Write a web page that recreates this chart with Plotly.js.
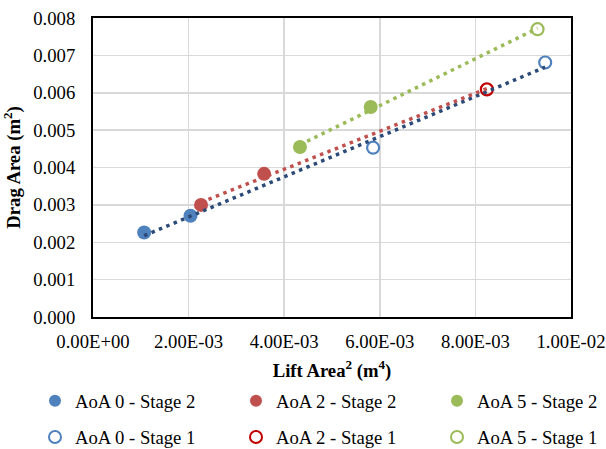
<!DOCTYPE html>
<html>
<head>
<meta charset="utf-8">
<script src="https://cdn.plot.ly/plotly-3.0.1.min.js"></script>
<style>html,body{margin:0;padding:0;background:#fff;}#chart{width:606px;height:449px;}</style>
</head>
<body>
<div id="chart"></div>
<script>
// ---- data ----
const aoa0Stage2X = [0.00107, 0.00204];
const aoa0Stage2Y = [0.00226, 0.00271];
const aoa2Stage2X = [0.00226, 0.00358];
const aoa2Stage2Y = [0.00300, 0.00383];
const aoa5Stage2X = [0.00433, 0.00581];
const aoa5Stage2Y = [0.00455, 0.00562];
const aoa0Stage1X = [0.00586, 0.00946];
const aoa0Stage1Y = [0.00453, 0.00681];
const aoa2Stage1X = [0.00824];
const aoa2Stage1Y = [0.00609];
const aoa5Stage1X = [0.00930];
const aoa5Stage1Y = [0.00770];

const xTickVals = [0, 0.002, 0.004, 0.006, 0.008, 0.010];
const xTickText = ["0.00E+00", "2.00E-03", "4.00E-03", "6.00E-03", "8.00E-03", "1.00E-02"];

const seriesNames = ["AoA 0 - Stage 2", "AoA 2 - Stage 2", "AoA 5 - Stage 2",
                     "AoA 0 - Stage 1", "AoA 2 - Stage 1", "AoA 5 - Stage 1"];

// ---- styling ----
const FONT = "'Liberation Serif', 'Times New Roman', serif";
const FS = 18.7;
const cBlue = "#4F81BD", cRed = "#C0504D", cGreen = "#9BBB59", cRedOpen = "#C00000";
const tBlue = "#2C4A78", tRed = "#C0504D", tGreen = "#9BBB59";

function linfit(xs, ys) {
  const n = xs.length;
  const mx = xs.reduce((a, b) => a + b, 0) / n;
  const my = ys.reduce((a, b) => a + b, 0) / n;
  let sxy = 0, sxx = 0;
  for (let i = 0; i < n; i++) { sxy += (xs[i] - mx) * (ys[i] - my); sxx += (xs[i] - mx) ** 2; }
  const m = sxy / sxx, b = my - m * mx;
  const x0 = Math.min(...xs), x1 = Math.max(...xs);
  return { x: [x0, x1], y: [m * x0 + b, m * x1 + b] };
}

function filled(x, y, name, color, legend, group) {
  return { type: "scatter", mode: "markers", x: x, y: y, name: name, legend: legend, legendgroup: group,
    marker: { symbol: "circle", size: 14, color: color, line: { width: 0 } } };
}
function open(x, y, name, color, legend, group) {
  return { type: "scatter", mode: "markers", x: x, y: y, name: name, legend: legend, legendgroup: group,
    marker: { symbol: "circle-open", size: 12, color: color, line: { width: 2.2, color: color } } };
}
function trend(xs, ys, color) {
  const f = linfit(xs, ys);
  return { type: "scatter", mode: "lines", x: f.x, y: f.y, showlegend: false, hoverinfo: "skip",
    line: { color: color, width: 3.5, dash: "3.5px,4.5px" } };
}

const data = [
  filled(aoa0Stage2X, aoa0Stage2Y, seriesNames[0], cBlue, "legend", "g1"),
  open(aoa0Stage1X, aoa0Stage1Y, seriesNames[3], cBlue, "legend", "g2"),
  filled(aoa2Stage2X, aoa2Stage2Y, seriesNames[1], cRed, "legend2", "g3"),
  open(aoa2Stage1X, aoa2Stage1Y, seriesNames[4], cRedOpen, "legend2", "g4"),
  filled(aoa5Stage2X, aoa5Stage2Y, seriesNames[2], cGreen, "legend3", "g5"),
  open(aoa5Stage1X, aoa5Stage1Y, seriesNames[5], cGreen, "legend3", "g6"),
  trend(aoa0Stage2X.concat(aoa0Stage1X), aoa0Stage2Y.concat(aoa0Stage1Y), tBlue),
  trend(aoa2Stage2X.concat(aoa2Stage1X), aoa2Stage2Y.concat(aoa2Stage1Y), tRed),
  trend(aoa5Stage2X.concat(aoa5Stage1X), aoa5Stage2Y.concat(aoa5Stage1Y), tGreen)
];

function legendBox(xpx) {
  return { orientation: "v", x: (xpx - 93) / 478, xanchor: "left", y: -(382 - 317) / 299, yanchor: "top",
    bgcolor: "rgba(0,0,0,0)", borderwidth: 0, traceorder: "grouped", tracegroupgap: 9,
    itemsizing: "constant", font: { family: FONT, size: FS, color: "#000" } };
}

const layout = {
  width: 606, height: 449,
  margin: { l: 93, r: 35, t: 18, b: 132, pad: 0, autoexpand: false },
  paper_bgcolor: "#fff", plot_bgcolor: "#fff",
  font: { family: FONT, size: FS, color: "#000" },
  xaxis: {
    range: [0, 0.01], tickvals: xTickVals, ticktext: xTickText,
    showgrid: true, gridcolor: "#D9D9D9", gridwidth: 1.5, zeroline: false,
    showline: true, linecolor: "#000", linewidth: 2, mirror: true,
    ticks: "outside", ticklen: 7, tickcolor: "rgba(0,0,0,0)",
    tickfont: { family: FONT, size: FS, color: "#000" },
    title: { text: "<b>Lift Area<sup>2</sup> (m<sup>4</sup>)</b>", font: { family: FONT, size: FS, color: "#000" }, standoff: 12 },
    automargin: false
  },
  yaxis: {
    range: [0, 0.008], dtick: 0.001, tick0: 0, tickformat: ".3f",
    showgrid: true, gridcolor: "#D9D9D9", gridwidth: 1.5, zeroline: false,
    showline: true, linecolor: "#000", linewidth: 2, mirror: true,
    ticks: "outside", ticklen: 12, tickcolor: "rgba(0,0,0,0)",
    tickfont: { family: FONT, size: FS, color: "#000" },
    title: { text: "<b>Drag Area (m<sup>2</sup>)</b>", font: { family: FONT, size: FS, color: "#000" }, standoff: 8 },
    automargin: false
  },
  legend: legendBox(35),
  legend2: legendBox(236),
  legend3: legendBox(437),
  showlegend: true
};

Plotly.newPlot("chart", data, layout, { displayModeBar: false, staticPlot: true });
</script>
</body>
</html>
